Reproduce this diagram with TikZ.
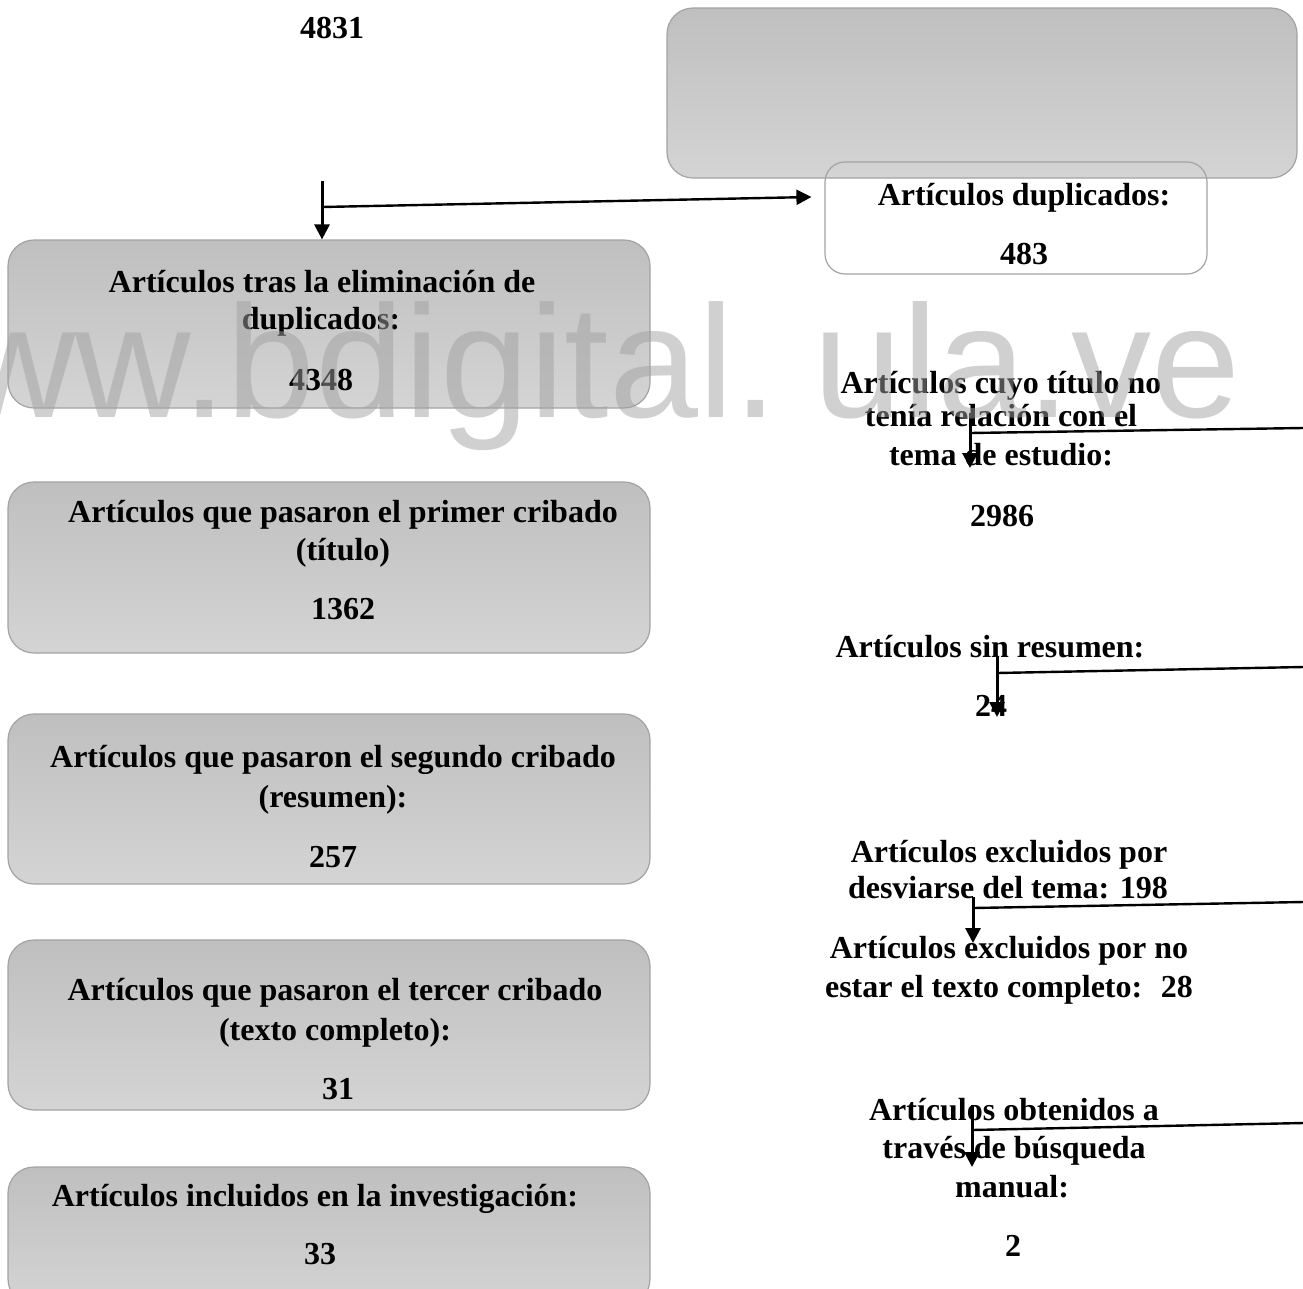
\documentclass[tikz,border=0pt]{standalone}
\usepackage{fontspec}
\setmainfont{Liberation Serif}
\newfontfamily\wmfont{Liberation Sans}
\usetikzlibrary{arrows.meta}
\definecolor{boxtop}{HTML}{BFBFBF}
\definecolor{boxbot}{HTML}{D4D4D4}
\definecolor{boxline}{HTML}{A3A3A3}
\definecolor{wmgray}{HTML}{A1A1A1}
\begin{document}
\begin{tikzpicture}[x=1pt,y=-1pt,
  graybox/.style={draw=boxline, line width=1.2pt, rounded corners=26pt, top color=boxtop, bottom color=boxbot, inner sep=0pt},
  whitebox/.style={draw=boxline, line width=1.2pt, rounded corners=20pt, inner sep=0pt},
  txt/.style={font=\fontsize{32}{38}\selectfont\bfseries, inner sep=0pt, anchor=base},
  arr/.style={line width=3pt, -{Triangle[length=15pt,width=15pt]}},
  hline/.style={line width=2.4pt},
  wm/.style={font=\wmfont\fontsize{160}{160}\selectfont, text=wmgray, text opacity=0.5, inner sep=0pt, anchor=base west}
]
\useasboundingbox (0,0) rectangle (1303,1288);

% boxes
\node[graybox, minimum width=630pt, minimum height=170pt] (topbox) at (982,93) {};
\node[whitebox, minimum width=382pt, minimum height=112pt] (dup) at (1016,218) {};
\node[graybox, minimum width=642pt, minimum height=168pt] (b1) at (329,324) {};
\node[graybox, minimum width=642pt, minimum height=171pt] (b2) at (329,567.5) {};
\node[graybox, minimum width=642pt, minimum height=170pt] (b3) at (329,799) {};
\node[graybox, minimum width=642pt, minimum height=170pt] (b4) at (329,1025) {};
\node[graybox, minimum width=642pt, minimum height=138pt] (b5) at (329,1236) {};

% texts
\node[txt] (t4831) at (332,38) {4831};
\node[txt] (dupa) at (1024,205) {Artículos duplicados:};
\node[txt] (dupb) at (1024,264) {483};

\node[txt] (b1a) at (322,292) {Artículos tras la eliminación de};
\node[txt] (b1b) at (321,329) {duplicados:};
\node[txt] (b1c) at (321,390) {4348};

\node[txt] (b2a) at (343,522) {Artículos que pasaron el primer cribado};
\node[txt] (b2b) at (343,560) {(título)};
\node[txt] (b2c) at (343,619) {1362};

\node[txt] (b3a) at (333,767) {Artículos que pasaron el segundo cribado};
\node[txt] (b3b) at (333,807) {(resumen):};
\node[txt] (b3c) at (333,867) {257};

\node[txt] (b4a) at (335,1000) {Artículos que pasaron el tercer cribado};
\node[txt] (b4b) at (335,1040) {(texto completo):};
\node[txt] (b4c) at (338,1099) {31};

\node[txt] (b5a) at (315,1206) {Artículos incluidos en la investigación:};
\node[txt] (b5b) at (320,1264) {33};

\node[txt] (r1a) at (1001,393) {Artículos cuyo título no};
\node[txt] (r1b) at (1001,426) {tenía relación con el};
\node[txt] (r1c) at (1001,465) {tema de estudio:};
\node[txt] (r1d) at (1002,526) {2986};

\node[txt] (r2a) at (990,657) {Artículos sin resumen:};
\node[txt] (r2b) at (991,716) {24};

\node[txt] (r3a) at (1009,862) {Artículos excluidos por};
\node[txt] (r3b) at (1008,898) {desviarse del tema: 198};
\node[txt] (r3c) at (1009,958) {Artículos excluidos por no};
\node[txt] (r3d) at (1009,997) {estar el texto completo:~ 28};

\node[txt] (r4a) at (1014,1120) {Artículos obtenidos a};
\node[txt] (r4b) at (1014,1158) {través de búsqueda};
\node[txt] (r4c) at (1012,1197) {manual:};
\node[txt] (r4d) at (1013,1256) {2};

% connectors
\coordinate (v0) at (322,181);
\coordinate (h0) at (322,207);
\draw[arr] (v0) -- (v0 |- b1.north);
\draw[hline, -{Triangle[length=15pt,width=15pt]}] (h0) -- ([xshift=-13pt,yshift=21pt]dup.west);

\coordinate (v1) at (970,413);
\coordinate (v1e) at (970,468);
\coordinate (h1s) at (970,433);
\coordinate (h1e) at (1303,428);
\draw[arr] (v1) -- (v1e);
\draw[hline] (h1s) -- (h1e);

\coordinate (v2) at (997,657);
\coordinate (v2e) at (997,717);
\coordinate (h2s) at (997,673);
\coordinate (h2e) at (1303,667);
\draw[arr] (v2) -- (v2e);
\draw[hline] (h2s) -- (h2e);

\coordinate (v3) at (973,897);
\coordinate (v3e) at (973,943);
\coordinate (h3s) at (973,908);
\coordinate (h3e) at (1303,902);
\draw[arr] (v3) -- (v3e);
\draw[hline] (h3s) -- (h3e);

\coordinate (v4) at (972,1105);
\coordinate (v4e) at (972,1167);
\coordinate (h4s) at (972,1130);
\coordinate (h4e) at (1303,1123);
\draw[arr] (v4) -- (v4e);
\draw[hline] (h4s) -- (h4e);

% watermark
\node[wm] (wmark) at (-40,417) {ww.bdigital.\kern35pt ula.ve};
\end{tikzpicture}
\end{document}
